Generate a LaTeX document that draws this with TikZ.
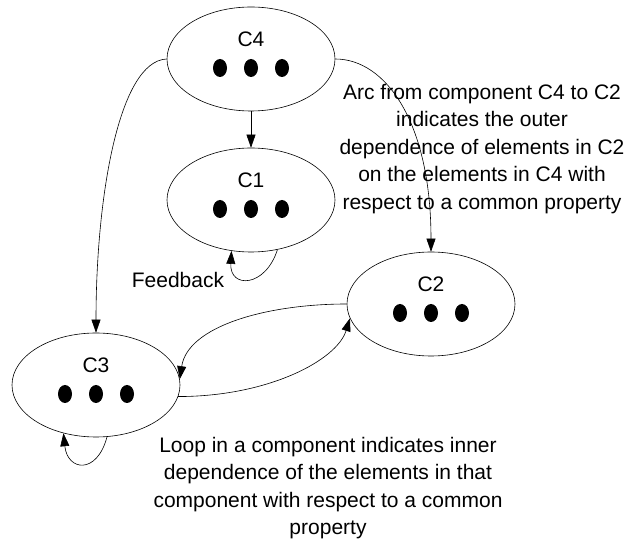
\documentclass[tikz,border=0pt]{standalone}
\usepackage{fontspec}
\setmainfont{Liberation Sans}
\usetikzlibrary{arrows.meta,shapes.geometric}

\newcommand{\Component}[4]{%
  \node[comp] (#1) at (#2,#3) {};
  \node[lab] (#1l) at ([yshift=20pt]#1.center) {#4};
  \foreach \dx in {-31,0,31}{\fill ([xshift=\dx pt,yshift=-9pt]#1.center) ellipse (7pt and 9pt);}
}

\begin{document}
\begin{tikzpicture}[x=1pt,y=1pt,
  comp/.style={draw,ellipse,minimum width=168pt,minimum height=104pt,inner sep=0pt,line width=0.6pt},
  lab/.style={font=\fontsize{21}{27.5}\selectfont,inner sep=0pt},
  link/.style={line width=0.6pt,-{Triangle[length=13pt,width=9pt]}}]
\useasboundingbox (0,0) rectangle (625,541);

\Component{c4}{251}{482}{C4}
\Component{c1}{251}{341}{C1}
\Component{c2}{431}{237}{C2}
\Component{c3}{96}{156}{C3}

\draw[link] (c4) -- (c1);
\draw[link] (c4.west) .. controls +(-48,-2) and +(0,135) .. (c3.north);
\draw[link] (c4.east) .. controls +(50,0) and +(0,130) .. (c2.north);
\draw[link] (c2.west) .. controls +(-80,0) and +(8,53) .. (c3.4);
\draw[link] (c3.-8) .. controls +(90,0) and +(-13,-42) .. (c2.190);
\draw[link] (c1.-62) .. controls +(-12,-38) and +(-2,-38) .. (c1.-111);
\draw[link] (c3.-78) .. controls +(-10,-38) and +(4,-38) .. (c3.-124);

\node[lab] (fb) at (178,261) {Feedback};
\node[lab,align=center] (note1) at (482,392) {Arc from component C4 to C2\\indicates the outer\\dependence of elements in C2\\on the elements in C4 with\\respect to a common property};
\node[lab,align=center] (note2) at (328,53) {Loop in a component indicates inner\\dependence of the elements in that\\component with respect to a common\\property};
\end{tikzpicture}
\end{document}
